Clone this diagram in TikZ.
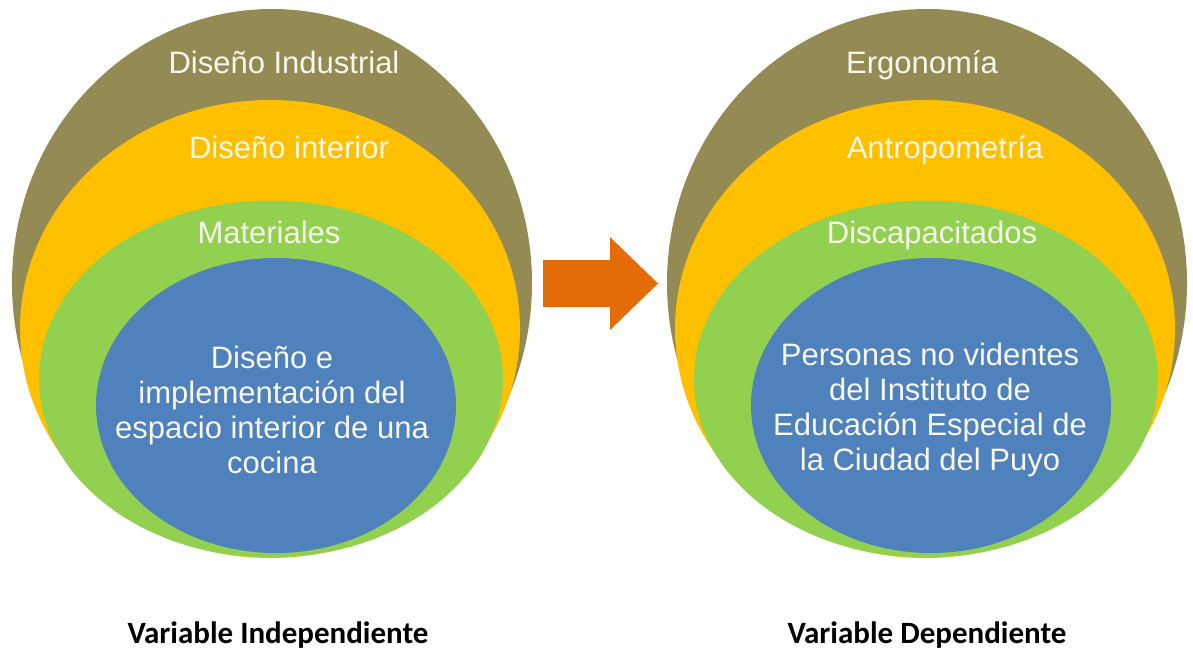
\documentclass[tikz,border=0pt]{standalone}
\usepackage{fontspec}
\setmainfont{Liberation Sans}
\newfontfamily\etiqueta{Carlito}
\usetikzlibrary{shapes.geometric}

\definecolor{oliva}{HTML}{948A54}
\definecolor{ambar}{HTML}{FFC000}
\definecolor{verde}{HTML}{92D050}
\definecolor{azul}{HTML}{4F81BD}
\definecolor{naranja}{HTML}{E36C09}
\definecolor{crema}{HTML}{F7F7EE}

\tikzset{
  capa/.style={ellipse, inner sep=0pt, draw=none},
  texto/.style={text=crema, font=\fontsize{31}{35}\selectfont, align=center, inner sep=0pt},
  rotulo/.style={font=\etiqueta\bfseries\fontsize{31}{35}\selectfont, anchor=base, inner sep=0pt}
}

\begin{document}
\begin{tikzpicture}[x=1pt, y=-1pt]
  \useasboundingbox (0,0) rectangle (1193,653);
  % variable independiente: capas de fuera hacia dentro
  \node [capa, fill=oliva, minimum width=520pt, minimum height=548pt] (indus) at (272,283) {};
  \node [capa, fill=ambar, minimum width=500pt, minimum height=458pt] (inter) at (270,329) {};
  \node [capa, fill=verde, minimum width=464pt, minimum height=357pt] (mater) at (271,379) {};
  \node [capa, fill=azul, minimum width=360pt, minimum height=295pt] (cocina) at (276,405.5) {};
  \node [texto, anchor=base] (tindus) at (284,73) {Diseño Industrial};
  \node [texto, anchor=base] (tinter) at (289,158) {Diseño interior};
  \node [texto, anchor=base] (tmater) at (269,243) {Materiales};
  \node [texto] (tcocina) at (272,410) {Diseño e\\implementación del\\espacio interior de una\\cocina};

  % flecha entre las dos variables
  \fill [naranja] (543,260) -- (610,260) -- (610,237) -- (658,283.5) -- (610,330) -- (610,307) -- (543,307) -- cycle;

  % variable dependiente
  \node [capa, fill=oliva, minimum width=520pt, minimum height=548pt] (ergo) at (927,283) {};
  \node [capa, fill=ambar, minimum width=500pt, minimum height=458pt] (antro) at (925,329) {};
  \node [capa, fill=verde, minimum width=464pt, minimum height=357pt] (disca) at (926,379) {};
  \node [capa, fill=azul, minimum width=360pt, minimum height=295pt] (ciegos) at (931,405.5) {};
  \node [texto, anchor=base] (tergo) at (922,73) {Ergonomía};
  \node [texto, anchor=base] (tantro) at (945,158) {Antropometría};
  \node [texto, anchor=base] (tdisca) at (932,243) {Discapacitados};
  \node [texto] (tciegos) at (930,410) {Personas no videntes\\del Instituto de\\Educación Especial de\\la Ciudad del Puyo};

  \node [rotulo] (vind) at (278,643) {Variable Independiente};
  \node [rotulo] (vdep) at (927,643) {Variable Dependiente};
\end{tikzpicture}
\end{document}
